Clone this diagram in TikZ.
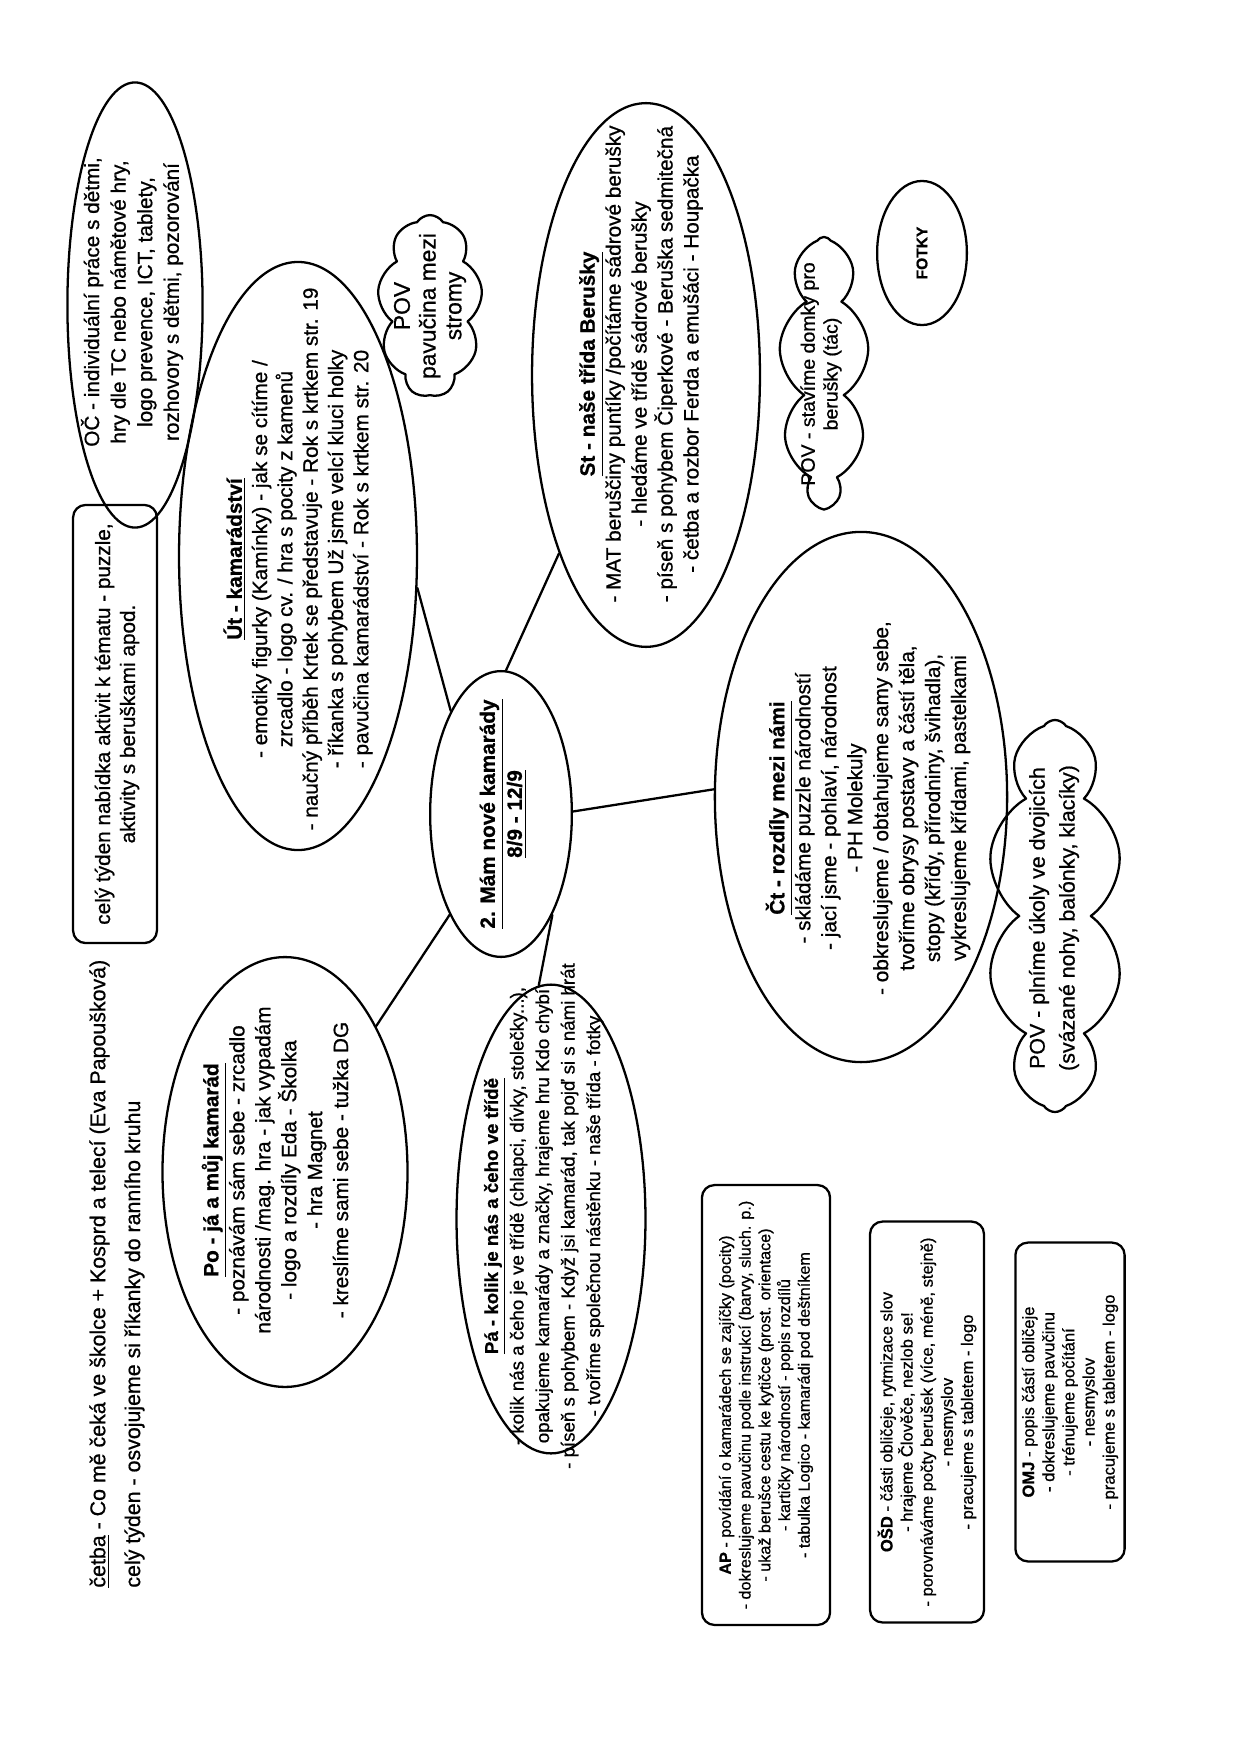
\documentclass[tikz,border=0pt]{standalone}
\usepackage{fontspec}
\setmainfont{Liberation Sans}[FakeBold=0.8]
\usepackage{tikz}
\usetikzlibrary{shapes.geometric,shapes.symbols}
\newcommand{\txtsize}[2]{\fontsize{#1}{#2}\selectfont}

\begin{document}
\begin{tikzpicture}[x=0.016935cm, y=-0.016935cm, line join=round, line cap=round,
  oval/.style={draw, line width=1.1pt, ellipse, inner sep=0pt},
  tag/.style={draw, line width=1.1pt, rounded corners=6pt, inner sep=0pt},
  puff/.style={draw, line width=1.1pt, cloud, cloud puffs=9, cloud puff arc=115,
    cloud ignores aspect, inner sep=0pt},
  txt/.style={rotate=90, align=center, inner sep=0pt, font=\txtsize{10}{12.5}},
  link/.style={line width=1.1pt}]

% --- 0. PAGE ---
\fill[white] (0,0) rectangle (1240,1754);
\useasboundingbox (0,0) rectangle (1240,1754);

% --- 1. THE TOPIC IN THE MIDDLE ---
\node[oval, minimum width=2.40cm, minimum height=4.84cm] (ctr) at (501,814) {};
\node[txt, font=\txtsize{10}{13}\bfseries] (ctrT) at (503,814)
  {\underline{2. Mám nové kamarády}\\\underline{8/9 - 12/9}};

% --- 2. THE DAYS OF THE WEEK ---
% Monday
\node[oval, minimum width=4.15cm, minimum height=7.28cm] (po) at (285,1172) {};
\node[txt] (poT) at (275,1170)
  {\textbf{\underline{Po - já a můj kamarád}}\\- poznávám sám sebe - zrcadlo\\
   národnosti /mag. hra - jak vypadám\\- logo a rozdíly Eda - Školka\\
   - hra Magnet\\- kreslíme sami sebe - tužka DG};

% Tuesday
\node[oval, minimum width=4.03cm, minimum height=9.96cm] (ut) at (298,556) {};
\node[txt, font=\txtsize{10}{12.2}] (utT) at (298,559)
  {\textbf{\underline{Út - kamarádství}}\\- emotiky figurky (Kamínky) - jak se cítíme /\\
   zrcadlo - logo cv. / hra s pocity z kamenů\\
   - naučný příběh Krtek se představuje - Rok s krtkem str. 19\\
   - říkanka s pohybem Už jsme velcí kluci holky\\
   - pavučina kamarádství - Rok s krtkem str. 20};

% Wednesday
\node[oval, minimum width=3.86cm, minimum height=9.21cm] (st) at (646,375) {};
\node[txt] (stT) at (641,364)
  {\textbf{\underline{St - naše třída Berušky}}\\
   - MAT beruščiny puntíky /počítáme sádrové berušky\\
   - hledáme ve třídě sádrové berušky\\
   - píseň s pohybem Čiperkové - Beruška sedmitečná\\
   - četba a rozbor Ferda a emušáci - Houpačka};

% Thursday
\node[oval, minimum width=4.95cm, minimum height=8.98cm] (ct) at (861,797) {};
\node[txt] (ctT) at (868,808)
  {\textbf{\underline{Čt - rozdíly mezi námi}}\\- skládáme puzzle národností\\
   - jací jsme - pohlaví, národnost\\- PH Molekuly\\
   - obkreslujeme / obtahujeme samy sebe,\\tvoříme obrysy postavy a částí těla,\\
   stopy (křídy, přírodniny, švihadla),\\vykreslujeme křídami, pastelkami};

% Friday
\node[oval, minimum width=3.20cm, minimum height=7.94cm] (pa) at (551,1219) {};
\node[txt, font=\txtsize{9}{12.3}] (paT) at (544,1216)
  {\textbf{\underline{Pá - kolik je nás a čeho ve třídě}}\\
   - kolik nás a čeho je ve třídě (chlapci, dívky, stolečky...),\\
   opakujeme kamarády a značky, hrajeme hru Kdo chybí\\
   - píseň s pohybem - Když jsi kamarád, tak pojď si s námi hrát\\
   - tvoříme společnou nástěnku - naše třída - fotky};

% --- 3. SPOKES ---
\draw[link] (ctr.116) -- (ut.-15);
\draw[link] (ctr.88) -- (st.244);
\draw[link] (ctr.2) -- (ct.177);
\draw[link] (ctr.-63) -- (pa.93);
\draw[link] (ctr.243) -- (po.58);

% --- 4. WHOLE WEEK ---
\node[txt, anchor=west, align=left, font=\txtsize{10.3}{16.8}] (cetba) at (117,1588)
  {\underline{četba} - Co mě čeká ve školce + Kosprd a telecí (Eva Papoušková)\\
   celý týden - osvojujeme si říkanky do ranního kruhu};

\node[tag, minimum width=1.42cm, minimum height=7.42cm] (week) at (115,724) {};
\node[txt, font=\txtsize{10}{12}] (weekT) at (117,724)
  {celý týden nabídka aktivit k tématu - puzzle,\\aktivity s beruškami apod.};

\node[oval, minimum width=2.29cm, minimum height=7.54cm] (oc) at (135,305) {};
\node[txt, font=\txtsize{10}{12.8}] (ocT) at (132,302)
  {OČ - individuální práce s dětmi,\\hry dle TC nebo námětové hry,\\
   logo prevence, ICT, tablety,\\rozhovory s dětmi, pozorování};

% --- 5. OUTDOORS (clouds) ---
\node[puff, minimum width=1.78cm, minimum height=3.08cm] (web) at (430,306) {};
\node[txt, font=\txtsize{11}{12.4}] (webT) at (430,306) {POV\\pavučina mezi\\stromy};

\node[puff, minimum width=1.52cm, minimum height=4.54cm] (house) at (824,371) {};
\node[txt, font=\txtsize{9.4}{11}] (houseT) at (821,374)
  {POV - stavíme domky pro\\berušky (tác)};

\node[puff, cloud puffs=10, minimum width=2.30cm, minimum height=6.64cm] (pair) at (1055,916) {};
\node[txt, font=\txtsize{10.3}{14.4}] (pairT) at (1054,918)
  {POV - plníme úkoly ve dvojicích\\(svázané nohy, balónky, klacíky)};

\node[oval, minimum width=1.52cm, minimum height=2.44cm] (foto) at (922,253) {};
\node[txt, font=\txtsize{7.5}{9}\bfseries] (fotoT) at (922,253) {FOTKY};

% --- 6. SUBJECT BOXES ---
\node[tag, minimum width=2.17cm, minimum height=7.45cm] (ap) at (766,1405) {};
\node[txt, font=\txtsize{7.8}{9.5}] (apT) at (766,1405)
  {\textbf{AP} - povídání o kamarádech se zajíčky (pocity)\\
   - dokreslujeme pavučinu podle instrukcí (barvy, sluch. p.)\\
   - ukaž berušce cestu ke kytičce (prost. orientace)\\
   - kartičky národností - popis rozdílů\\
   - tabulka Logico - kamarádi pod deštníkem};

\node[tag, minimum width=1.93cm, minimum height=6.79cm] (osd) at (927,1422) {};
\node[txt, font=\txtsize{8}{9.7}] (osdT) at (927,1422)
  {\textbf{OŠD} - části obličeje, rytmizace slov\\- hrajeme Člověče, nezlob se!\\
   - porovnáváme počty berušek (více, méně, stejně)\\- nesmyslov\\
   - pracujeme s tabletem - logo};

\node[tag, minimum width=1.85cm, minimum height=5.40cm] (omj) at (1070,1402) {};
\node[txt, font=\txtsize{8}{9.7}] (omjT) at (1070,1402)
  {\textbf{OMJ} - popis částí obličeje\\- dokreslujeme pavučinu\\
   - trénujeme počítání\\- nesmyslov\\- pracujeme s tabletem - logo};

\end{tikzpicture}
\end{document}
